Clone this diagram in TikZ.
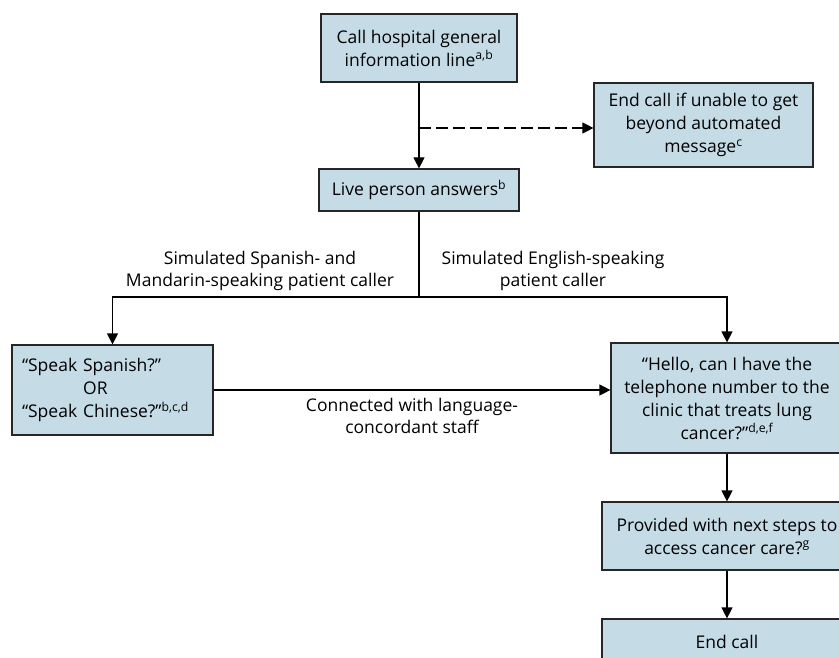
\documentclass[tikz,border=0pt]{standalone}
\usepackage{fontspec}
\setmainfont{Open Sans}
\usetikzlibrary{arrows.meta}
\definecolor{boxblue}{RGB}{197,220,231}
\begin{document}
\begin{tikzpicture}[x=1pt,y=-1pt,
  box/.style={draw=black!85,fill=boxblue,line width=1.2pt,align=center,font=\fontsize{17.5}{23}\selectfont,inner sep=0pt},
  lbl/.style={align=center,font=\fontsize{17.5}{22.5}\selectfont},
  flow/.style={line width=1.2pt,-{Triangle[length=11pt,width=11pt]}}]
  \useasboundingbox (0,0) rectangle (839,658);
  \clip (0,0) rectangle (839,658);
  % boxes
  \node[box,minimum width=196pt,minimum height=68pt] (call) at (419,48) {Call hospital general\\information line\textsuperscript{a,b}};
  \node[box,minimum width=219pt,minimum height=84pt] (auto) at (703.5,125) {End call if unable to get\\beyond automated\\message\textsuperscript{c}};
  \node[box,minimum width=200pt,minimum height=42pt] (live) at (419,190) {Live person answers\textsuperscript{b}};
  \node[box,minimum height=90pt,text width=181pt,inner xsep=10pt,align=left] (speak) at (112.5,390) {“Speak Spanish?”\\\hspace*{3.5em}OR\\“Speak Chinese?”\textsuperscript{b,c,d}};
  \node[box,minimum width=232pt,minimum height=110pt] (hello) at (727,398) {“Hello, can I have the\\telephone number to the\\clinic that treats lung\\cancer?”\textsuperscript{d,e,f}};
  \node[box,minimum width=250pt,minimum height=68pt] (steps) at (727,536) {Provided with next steps to\\access cancer care?\textsuperscript{g}};
  \node[box,minimum width=250pt,minimum height=46pt] (endcall) at (727,642) {End call};
  % connectors
  \coordinate (drop) at (419,128);
  \coordinate (split) at (419,297);
  \draw[flow] (call) -- (live);
  \draw[flow,dash pattern=on 12pt off 5pt] (drop) -- (auto.west |- drop);
  \draw[line width=1.2pt] (live.south) -- (split);
  \draw[flow] (split) -| (speak.north);
  \draw[flow] (split) -| (hello.north);
  \draw[flow] (speak.east) -- (speak.east -| hello.west);
  \draw[flow] (hello) -- (steps);
  \draw[flow] (steps) -- (endcall);
  % labels
  \node[lbl] (spanish) at (260,271) {Simulated Spanish- and\\Mandarin-speaking patient caller};
  \node[lbl] (english) at (553,271) {Simulated English-speaking\\patient caller};
  \node[lbl] (staff) at (412,416) {Connected with language-\\concordant staff};
\end{tikzpicture}
\end{document}
